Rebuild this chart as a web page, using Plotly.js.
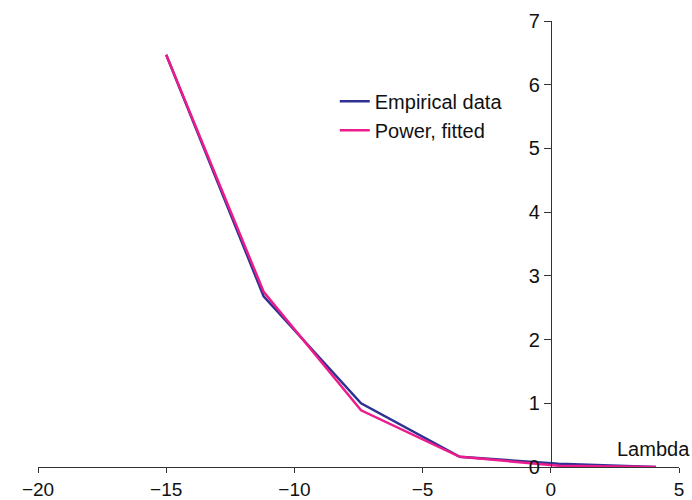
<!DOCTYPE html>
<html>
<head>
<meta charset="utf-8">
<script src="https://cdn.plot.ly/plotly-3.0.1.min.js"></script>
<style>html,body{margin:0;padding:0;background:#fff;}#chart{width:692px;height:500px;}</style>
</head>
<body>
<div id="chart"></div>
<script>
const lambda = [-15, -11.2, -7.4, -3.55, 0.3, 4.1];
const empirical = [6.47, 2.68, 1.0, 0.16, 0.05, 0.0];
const fitted = [6.47, 2.75, 0.89, 0.16, 0.02, 0.0];
const xTicks = [-20, -15, -10, -5, 0, 5];
const yTicks = [0, 1, 2, 3, 4, 5, 6, 7];

const font = {family: 'Liberation Sans, Arial, Helvetica, sans-serif', size: 20, color: '#111'};
const xFont = {family: 'Liberation Sans, Arial, Helvetica, sans-serif', size: 19, color: '#111'};

const traces = [
  {x: lambda, y: empirical, type: 'scatter', mode: 'lines', name: 'Empirical data',
   legendgroup: 'a', line: {color: '#2e3192', width: 2.5}},
  {x: lambda, y: fitted, type: 'scatter', mode: 'lines', name: 'Power, fitted',
   legendgroup: 'b', line: {color: '#ec1c8c', width: 2.5}}
];

const layout = {
  width: 692, height: 500,
  margin: {l: 38, r: 13, t: 21, b: 33},
  paper_bgcolor: '#fff', plot_bgcolor: '#fff',
  font: font,
  showlegend: true,
  legend: {x: 0.463, y: 0.864, xanchor: 'left', yanchor: 'top', bgcolor: 'rgba(0,0,0,0)',
           font: font, itemwidth: 30, traceorder: 'grouped', tracegroupgap: 0},
  xaxis: {
    range: [-20, 5], tickvals: xTicks, ticks: 'outside', ticklen: 5, tickcolor: '#333',
    showline: true, linecolor: '#333', linewidth: 1, showgrid: false, zeroline: false,
    tickfont: xFont
  },
  yaxis: {
    range: [0, 7], tickvals: yTicks, ticks: 'outside', ticklen: 7, tickcolor: '#333',
    showline: true, linecolor: '#333', linewidth: 1, showgrid: false, zeroline: false,
    anchor: 'free', position: 0.8, side: 'left', tickfont: font
  },
  annotations: [{
    x: 5, y: 0.28, xref: 'x', yref: 'y', text: 'Lambda', showarrow: false,
    xanchor: 'right', yanchor: 'middle', xshift: 13, font: font
  }]
};

Plotly.newPlot('chart', traces, layout, {displayModeBar: false, staticPlot: true});
</script>
</body>
</html>
